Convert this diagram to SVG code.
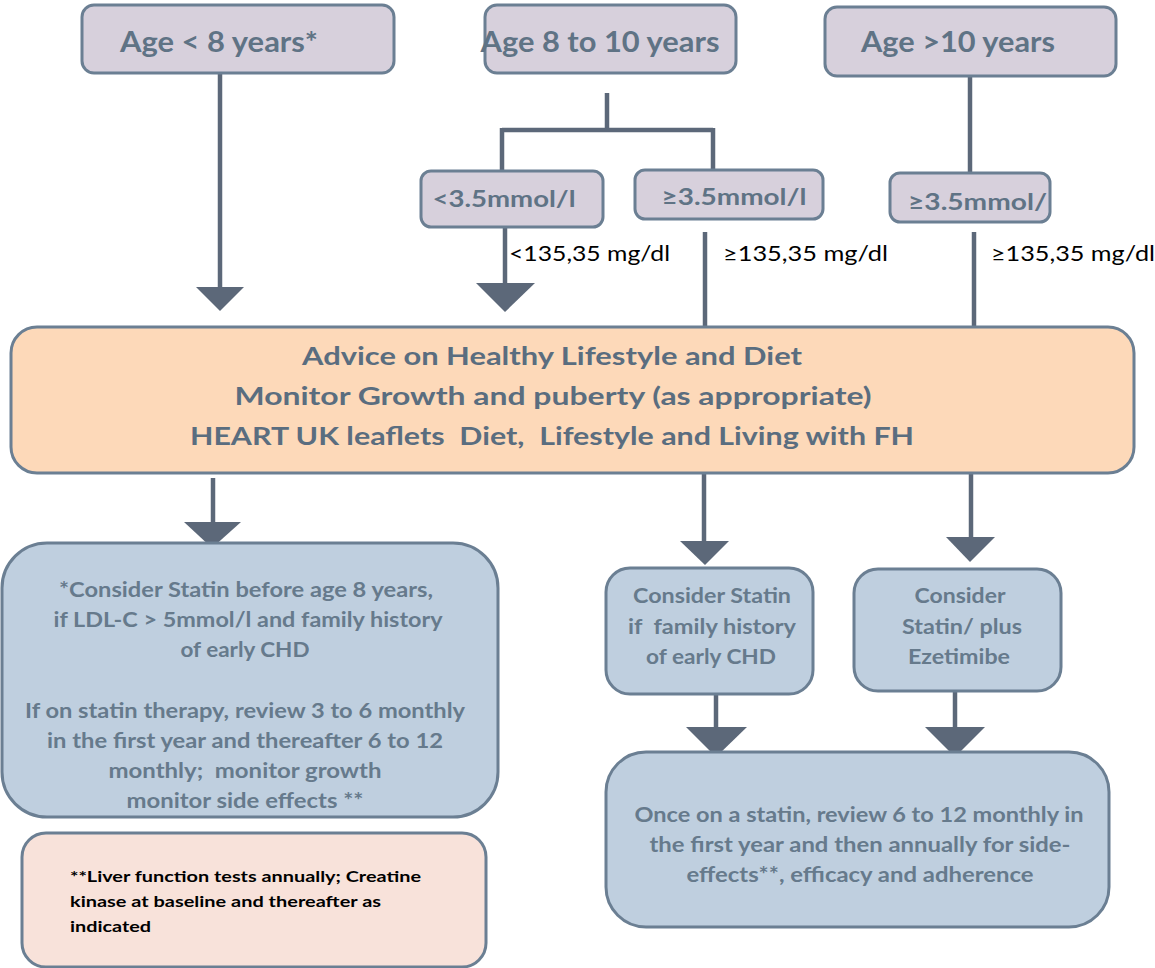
<svg xmlns="http://www.w3.org/2000/svg" width="1155" height="968" viewBox="0 0 1155 968">
<style>
.bx{stroke:#6b7f93;stroke-width:3}
.lav{fill:#d7d0dc}
.peach{fill:#fdd9b9}
.blue{fill:#bfcfdf}
.pink{fill:#f8e2da}
.ln{stroke:#5c6879;stroke-width:4.5;fill:none}
.hd{fill:#5c6879}
text{font-family:Lato,"Liberation Sans",sans-serif;font-weight:bold;text-anchor:middle}
.t1{fill:#5f7385;font-size:28px}
.t2{fill:#5f7385;font-size:23px}
.tm{fill:#5a6d7f;font-size:24px}
.tb{fill:#667a8c;font-size:21px}
.tk{fill:#000;font-size:16px;text-anchor:start}
.lbl{fill:#000;font-weight:normal;font-size:21px;text-anchor:start}
</style>
<g id="connectors">
<path class="ln" d="M220,73V289"/>
<polygon class="hd" points="196,287 244,287 220,311"/>
<path class="ln" d="M607,93V130M502,130H713M502,128V171M713,128V170"/>
<path class="ln" d="M505,219V285"/>
<polygon class="hd" points="476,283 535,283 505,312"/>
<path class="ln" d="M970,76V173"/>
<path class="ln" d="M705,232V327"/>
<path class="ln" d="M974,232V327"/>
<path class="ln" d="M213,478V524"/>
<polygon class="hd" points="184,522 241,522 212,548"/>
<path class="ln" d="M704,473V543"/>
<polygon class="hd" points="680,541 729,541 705,565"/>
<path class="ln" d="M971,473V539"/>
<polygon class="hd" points="946,537 995,537 970,562"/>
<path class="ln" d="M716,694V729"/>
<polygon class="hd" points="686,727 747,727 716,757"/>
<path class="ln" d="M955,691V729"/>
<polygon class="hd" points="925,727 985,727 955,757"/>
</g>
<g id="age-lt-8">
<rect class="bx lav" x="82" y="5" width="312" height="68" rx="12"/>
<text class="t1" x="219" y="52" textLength="198" lengthAdjust="spacingAndGlyphs">Age &lt; 8 years*</text>
</g>
<g id="age-8-10">
<rect class="bx lav" x="485" y="5" width="251" height="68" rx="12"/>
<text class="t1" x="600" y="52" textLength="239" lengthAdjust="spacingAndGlyphs">Age 8 to 10 years</text>
</g>
<g id="age-gt-10">
<rect class="bx lav" x="825" y="7" width="291" height="69" rx="12"/>
<text class="t1" x="958" y="52" textLength="194" lengthAdjust="spacingAndGlyphs">Age &gt;10 years</text>
</g>
<g id="lt35">
<rect class="bx lav" x="421" y="171" width="182" height="56" rx="10"/>
<text class="t2" x="504" y="207" textLength="143" lengthAdjust="spacingAndGlyphs">&lt;3.5mmol/l</text>
</g>
<g id="ge35a">
<rect class="bx lav" x="635" y="170" width="188" height="49" rx="10"/>
<text class="t2" x="734" y="205" textLength="145" lengthAdjust="spacingAndGlyphs">≥3.5mmol/l</text>
</g>
<g id="ge35b">
<rect class="bx lav" x="890" y="173" width="160" height="49" rx="10"/>
<text class="t2" x="908" y="210" style="text-anchor:start" textLength="139" lengthAdjust="spacingAndGlyphs">≥3.5mmol/</text>
</g>
<g id="labels">
<text class="lbl" x="509" y="261" textLength="161" lengthAdjust="spacingAndGlyphs">&lt;135,35 mg/dl</text>
<text class="lbl" x="723" y="261" textLength="165" lengthAdjust="spacingAndGlyphs">≥135,35 mg/dl</text>
<text class="lbl" x="991" y="261" textLength="164" lengthAdjust="spacingAndGlyphs">≥135,35 mg/dl</text>
</g>
<g id="advice">
<rect class="bx peach" x="11" y="327" width="1123" height="146" rx="26"/>
<text class="tm" x="552" y="365" textLength="500" lengthAdjust="spacingAndGlyphs">Advice on Healthy Lifestyle and Diet</text>
<text class="tm" x="553" y="405" textLength="637" lengthAdjust="spacingAndGlyphs">Monitor Growth and puberty (as appropriate)</text>
<text class="tm" x="552" y="445" textLength="724" lengthAdjust="spacingAndGlyphs" xml:space="preserve">HEART UK leaflets  Diet,  Lifestyle and Living with FH</text>
</g>
<g id="consider-before-8">
<rect class="bx blue" x="2" y="543" width="496" height="274" rx="45"/>
<text class="tb" x="246" y="597" textLength="374" lengthAdjust="spacingAndGlyphs">*Consider Statin before age 8 years,</text>
<text class="tb" x="248" y="627" textLength="389" lengthAdjust="spacingAndGlyphs">if LDL-C &gt; 5mmol/l and family history</text>
<text class="tb" x="245" y="657" textLength="129" lengthAdjust="spacingAndGlyphs">of early CHD</text>
<text class="tb" x="245" y="718" textLength="440" lengthAdjust="spacingAndGlyphs">If on statin therapy, review 3 to 6 monthly</text>
<text class="tb" x="245" y="748" textLength="396" lengthAdjust="spacingAndGlyphs">in the first year and thereafter 6 to 12</text>
<text class="tb" x="245" y="778" textLength="273" lengthAdjust="spacingAndGlyphs" xml:space="preserve">monthly;  monitor growth</text>
<text class="tb" x="245" y="808" textLength="237" lengthAdjust="spacingAndGlyphs">monitor side effects **</text>
</g>
<g id="liver-note">
<rect class="bx pink" x="22" y="833" width="464" height="134" rx="24"/>
<text class="tk" x="70" y="882" textLength="351" lengthAdjust="spacingAndGlyphs">**Liver function tests annually; Creatine</text>
<text class="tk" x="70" y="907" textLength="311" lengthAdjust="spacingAndGlyphs">kinase at baseline and thereafter as</text>
<text class="tk" x="70" y="932" textLength="81" lengthAdjust="spacingAndGlyphs">indicated</text>
</g>
<g id="consider-statin">
<rect class="bx blue" x="606" y="568" width="207" height="126" rx="24"/>
<text class="tb" x="712" y="603" textLength="158" lengthAdjust="spacingAndGlyphs">Consider Statin</text>
<text class="tb" x="712" y="634" textLength="168" lengthAdjust="spacingAndGlyphs" xml:space="preserve">if  family history</text>
<text class="tb" x="711" y="664" textLength="130" lengthAdjust="spacingAndGlyphs">of early CHD</text>
</g>
<g id="consider-ezetimibe">
<rect class="bx blue" x="854" y="569" width="207" height="122" rx="24"/>
<text class="tb" x="960" y="603" textLength="91" lengthAdjust="spacingAndGlyphs">Consider</text>
<text class="tb" x="962" y="634" textLength="120" lengthAdjust="spacingAndGlyphs">Statin/ plus</text>
<text class="tb" x="959" y="664" textLength="102" lengthAdjust="spacingAndGlyphs">Ezetimibe</text>
</g>
<g id="review">
<rect class="bx blue" x="606" y="752" width="503" height="175" rx="40"/>
<text class="tb" x="859" y="822" textLength="449" lengthAdjust="spacingAndGlyphs">Once on a statin, review 6 to 12 monthly in</text>
<text class="tb" x="860" y="852" textLength="421" lengthAdjust="spacingAndGlyphs">the first year and then annually for side-</text>
<text class="tb" x="860" y="882" textLength="347" lengthAdjust="spacingAndGlyphs">effects**, efficacy and adherence</text>
</g>
</svg>
